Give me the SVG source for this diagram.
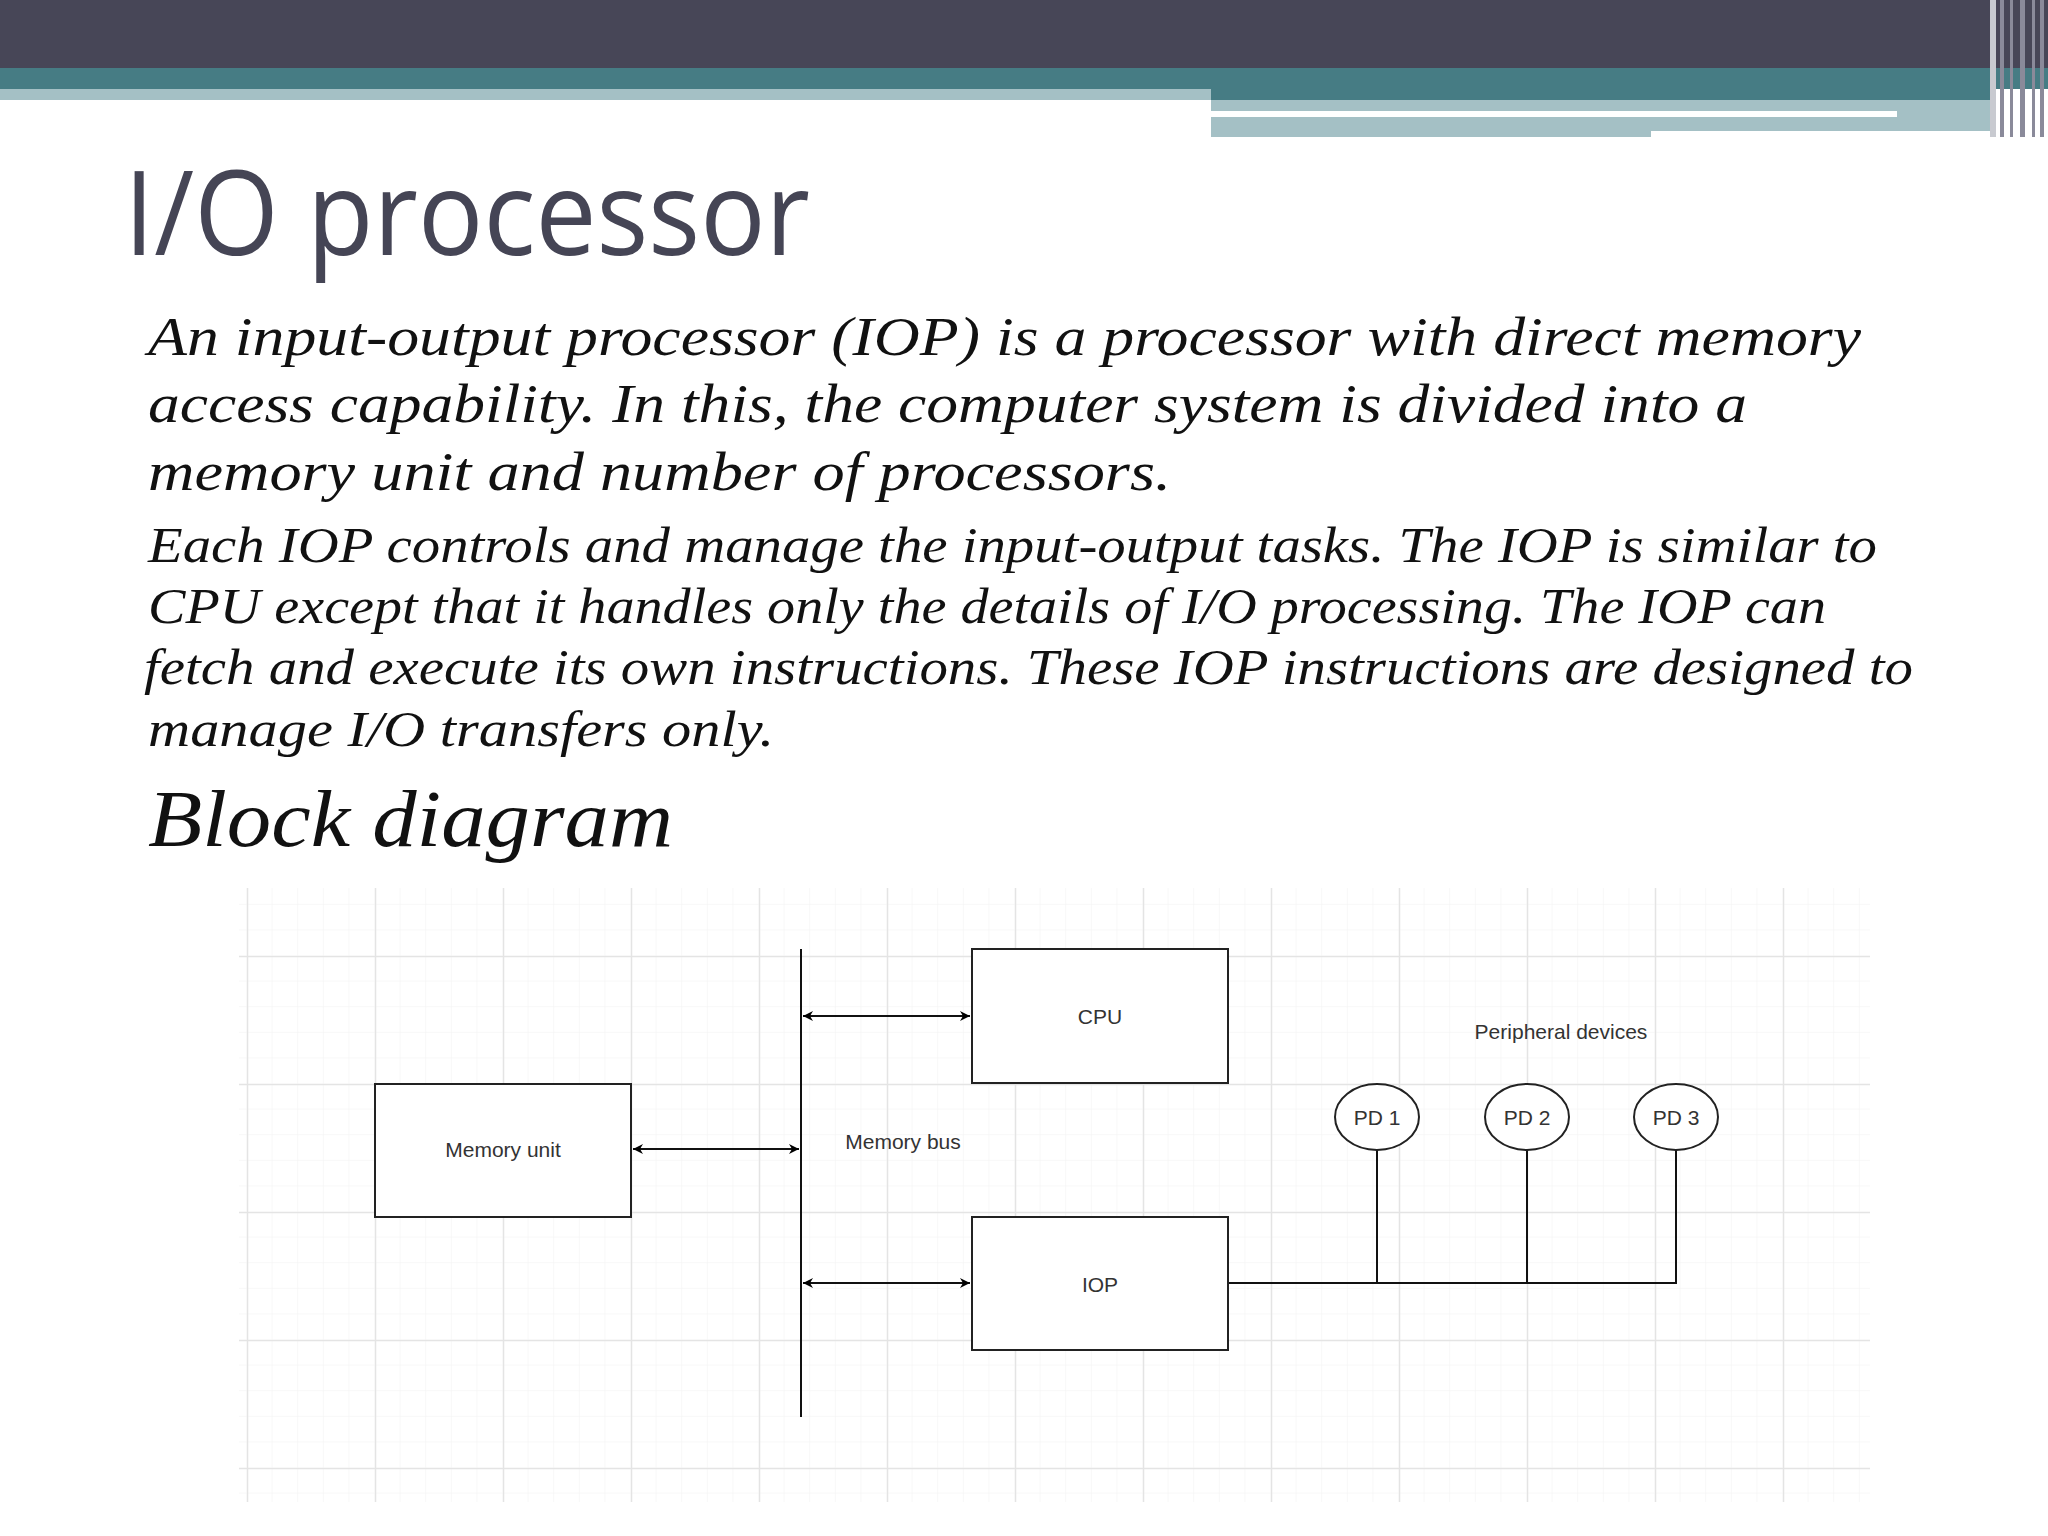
<svg xmlns="http://www.w3.org/2000/svg" width="2048" height="1536" viewBox="0 0 2048 1536">
<defs>
<pattern id="minor" x="247" y="956" width="25.6" height="25.6" patternUnits="userSpaceOnUse"><path d="M25.6 0V25.6H0" fill="none" stroke="#f1f1f1" stroke-width="1"/></pattern>
<pattern id="major" x="247" y="956" width="128" height="128" patternUnits="userSpaceOnUse"><path d="M0.5 0V128M0 0.5H128" fill="none" stroke="#e4e4e4" stroke-width="1.5"/></pattern>
<marker id="ah" viewBox="0 0 10 10" refX="10" refY="5" markerWidth="10" markerHeight="10" markerUnits="userSpaceOnUse" orient="auto-start-reverse"><path d="M0 0L10 5L0 10L3 5Z" fill="#000"/></marker>
</defs>
<style>
.para{font-family:"Liberation Serif",serif;font-style:italic;fill:#111}
.lbl{font-family:"Liberation Sans",Arial,sans-serif;font-size:21px;fill:#333;text-anchor:middle;dominant-baseline:central}
.box{fill:#fff;stroke:#222;stroke-width:2}
.ln{stroke:#111;stroke-width:2;fill:none}
</style>
<rect width="2048" height="1536" fill="#fff"/>
<rect x="0" y="0" width="2048" height="68" fill="#474657"/>
<rect x="0" y="68" width="2048" height="21" fill="#467c84"/>
<rect x="0" y="89" width="1211" height="11" fill="#a4c0c5"/>
<rect x="1211" y="89" width="780" height="11" fill="#467c84"/>
<rect x="1211" y="100" width="780" height="37" fill="#a4c0c5"/>
<rect x="1211" y="111" width="686" height="6" fill="#fff"/>
<rect x="1651" y="131" width="340" height="6" fill="#fff"/>
<g fill="#8a8a9a"><rect x="1990" y="0" width="6" height="137" fill="#c8cad0"/><rect x="2000" y="0" width="4" height="137"/><rect x="2010" y="0" width="3" height="137"/><rect x="2020" y="0" width="5" height="137"/><rect x="2032" y="0" width="3" height="137"/><rect x="2040" y="0" width="4" height="137"/></g>
<text x="124" y="255" font-family="'Open Sans','DejaVu Sans',sans-serif" font-size="118" fill="#454555" textLength="686" lengthAdjust="spacingAndGlyphs">I/O processor</text>
<g class="para" font-size="54">
<text x="148" y="355" textLength="1713" lengthAdjust="spacingAndGlyphs">An input-output processor (IOP) is a processor with direct memory</text>
<text x="148" y="422" textLength="1599" lengthAdjust="spacingAndGlyphs">access capability. In this, the computer system is divided into a</text>
<text x="148" y="490" textLength="1023" lengthAdjust="spacingAndGlyphs">memory unit and number of processors.</text>
</g>
<g class="para" font-size="50">
<text x="148" y="562" textLength="1729" lengthAdjust="spacingAndGlyphs">Each IOP controls and manage the input-output tasks. The IOP is similar to</text>
<text x="148" y="623" textLength="1678" lengthAdjust="spacingAndGlyphs">CPU except that it handles only the details of I/O processing. The IOP can</text>
<text x="144" y="684" textLength="1769" lengthAdjust="spacingAndGlyphs">fetch and execute its own instructions. These IOP instructions are designed to</text>
<text x="148" y="746" textLength="626" lengthAdjust="spacingAndGlyphs">manage I/O transfers only.</text>
</g>
<text x="148" y="846" class="para" font-size="80" textLength="525" lengthAdjust="spacingAndGlyphs">Block diagram</text>
<rect x="239" y="888" width="1631" height="614" fill="url(#minor)"/>
<rect x="239" y="888" width="1631" height="614" fill="url(#major)"/>
<g id="connectors">
<line class="ln" x1="801" y1="949" x2="801" y2="1417"/>
<line class="ln" x1="803" y1="1016" x2="970" y2="1016" marker-start="url(#ah)" marker-end="url(#ah)"/>
<line class="ln" x1="633" y1="1149" x2="799" y2="1149" marker-start="url(#ah)" marker-end="url(#ah)"/>
<line class="ln" x1="803" y1="1283" x2="970" y2="1283" marker-start="url(#ah)" marker-end="url(#ah)"/>
<path class="ln" d="M1228 1283H1676V1150M1377 1150V1283M1527 1150V1283"/>
</g>
<g id="memory"><rect class="box" x="375" y="1084" width="256" height="133"/><text class="lbl" x="503" y="1149">Memory unit</text></g>
<g id="cpu"><rect class="box" x="972" y="949" width="256" height="134"/><text class="lbl" x="1100" y="1016">CPU</text></g>
<g id="iop"><rect class="box" x="972" y="1217" width="256" height="133"/><text class="lbl" x="1100" y="1284">IOP</text></g>
<g id="bus-label"><text class="lbl" x="903" y="1141">Memory bus</text></g>
<g id="periph-label"><text class="lbl" x="1561" y="1031">Peripheral devices</text></g>
<g id="pd1"><ellipse class="box" cx="1377" cy="1117" rx="42" ry="33"/><text class="lbl" x="1377" y="1117">PD 1</text></g>
<g id="pd2"><ellipse class="box" cx="1527" cy="1117" rx="42" ry="33"/><text class="lbl" x="1527" y="1117">PD 2</text></g>
<g id="pd3"><ellipse class="box" cx="1676" cy="1117" rx="42" ry="33"/><text class="lbl" x="1676" y="1117">PD 3</text></g>
</svg>
